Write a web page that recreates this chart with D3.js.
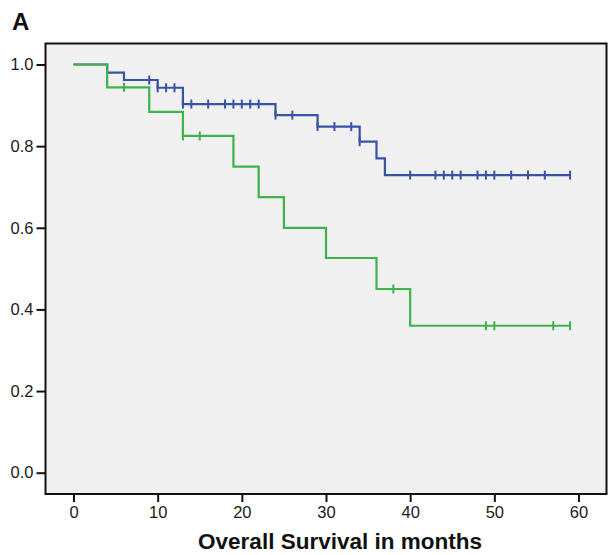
<!DOCTYPE html>
<html><head><meta charset="utf-8">
<script src="https://cdn.jsdelivr.net/npm/d3@7/dist/d3.min.js"></script>
<style>
body{margin:0;background:#fff;}
text{font-family:"Liberation Sans",Arial,sans-serif;}
</style></head>
<body>
<svg id="chart" width="615" height="555"></svg>
<script>
// Data
const blueTimes = [0, 4, 6, 10, 13, 24, 29, 34, 36, 37];
const blueSurv  = [1.0, 0.980, 0.962, 0.943, 0.903, 0.876, 0.848, 0.811, 0.770, 0.729];
const blueEnd = 59;
const blueCensor = [9,10,11,12,13,14,16,18,19,20,21,22,24,26,29,31,33,34,40,43,44,45,46,48,49,50,52,54,56,59];

const greenTimes = [0, 4, 9, 13, 19, 22, 25, 30, 36, 40];
const greenSurv  = [1.0, 0.944, 0.884, 0.825, 0.750, 0.675, 0.600, 0.526, 0.450, 0.360];
const greenEnd = 59;
const greenCensor = [6, 13, 15, 38, 49, 50, 57, 59];

const xTicks = [0, 10, 20, 30, 40, 50, 60];
const yTicks = [0.0, 0.2, 0.4, 0.6, 0.8, 1.0];

const svg = d3.select("#chart");
const frame = {x0: 45.5, x1: 606.5, y0: 43.5, y1: 494};
const x = d3.scaleLinear().domain([0, 60]).range([73.5, 578.5]);
const y = d3.scaleLinear().domain([0, 1]).range([472.7, 64.5]);

svg.append("text").attr("x", 12).attr("y", 30).style("font-size", "24px").attr("font-weight", "bold").attr("fill", "#111").text("A");

svg.append("rect").attr("x", frame.x0).attr("y", frame.y0)
  .attr("width", frame.x1 - frame.x0).attr("height", frame.y1 - frame.y0)
  .attr("fill", "#f0f0f0").attr("stroke", "#111").attr("stroke-width", 2);

function survAt(times, surv, t) {
  let s = surv[0];
  for (let i = 0; i < times.length; i++) if (times[i] <= t) s = surv[i];
  return s;
}

function drawCurve(times, surv, end, censor, color) {
  const pts = [];
  for (let i = 0; i < times.length; i++) {
    if (i > 0) pts.push([times[i], surv[i - 1]]);
    pts.push([times[i], surv[i]]);
  }
  pts.push([end, surv[surv.length - 1]]);
  const line = d3.line().x(d => x(d[0])).y(d => y(d[1]));
  svg.append("path").attr("d", line(pts)).attr("fill", "none")
    .attr("stroke", color).attr("stroke-width", 2.2);
  svg.append("g").selectAll("line").data(censor).join("line")
    .attr("x1", d => x(d)).attr("x2", d => x(d))
    .attr("y1", d => y(survAt(times, surv, d)) - 4.5)
    .attr("y2", d => y(survAt(times, surv, d)) + 4.5)
    .attr("stroke", color).attr("stroke-width", 2);
}

drawCurve(blueTimes, blueSurv, blueEnd, blueCensor, "#3953a4");
drawCurve(greenTimes, greenSurv, greenEnd, greenCensor, "#3cb44b");

const yAxis = d3.axisLeft(y).tickValues(yTicks).tickFormat(d3.format(".1f")).tickSize(9).tickPadding(3);
const gy = svg.append("g").attr("transform", `translate(${frame.x0},0)`).call(yAxis);
gy.select(".domain").remove();
gy.selectAll("line").attr("stroke", "#111").attr("stroke-width", 2);
gy.selectAll("text").style("font-size", "16.5px").attr("fill", "#1a1a1a");

const xAxis = d3.axisBottom(x).tickValues(xTicks).tickSize(8).tickPadding(4.5);
const gx = svg.append("g").attr("transform", `translate(0,${frame.y1})`).call(xAxis);
gx.select(".domain").remove();
gx.selectAll("line").attr("stroke", "#111").attr("stroke-width", 2);
gx.selectAll("text").style("font-size", "16.5px").attr("fill", "#1a1a1a");

svg.append("text").attr("x", 340).attr("y", 549).attr("text-anchor", "middle")
  .style("font-size", "22.5px").attr("font-weight", "bold").attr("fill", "#111")
  .text("Overall Survival in months");
</script>
</body></html>
